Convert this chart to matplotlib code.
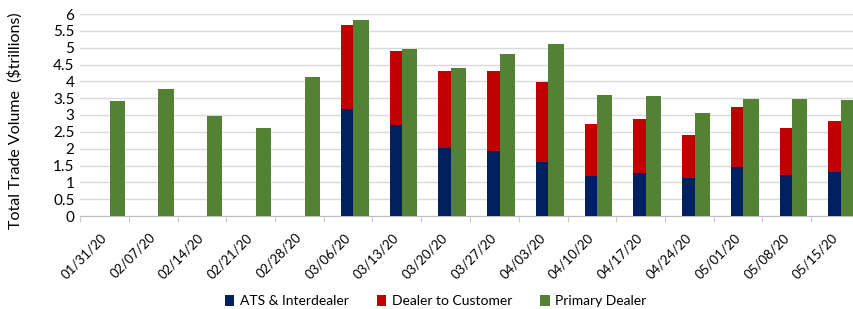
import matplotlib.pyplot as plt
import numpy as np

plt.rcParams['font.family'] = ['Lato', 'DejaVu Sans']

weeks = ['01/31/20', '02/07/20', '02/14/20', '02/21/20', '02/28/20', '03/06/20',
         '03/13/20', '03/20/20', '03/27/20', '04/03/20', '04/10/20', '04/17/20',
         '04/24/20', '05/01/20', '05/08/20', '05/15/20']
ats_interdealer = [0, 0, 0, 0, 0, 3.18, 2.71, 2.03, 1.92, 1.61, 1.20, 1.28, 1.12, 1.46, 1.23, 1.31]
dealer_customer = [0, 0, 0, 0, 0, 2.50, 2.20, 2.29, 2.40, 2.36, 1.52, 1.60, 1.29, 1.79, 1.38, 1.52]
primary_dealer = [3.43, 3.77, 2.98, 2.60, 4.12, 5.83, 4.96, 4.39, 4.81, 5.12, 3.59, 3.55, 3.06, 3.48, 3.48, 3.44]

navy = '#002060'
red = '#C00000'
green = '#548235'

fig = plt.figure(figsize=(8.54, 3.09), dpi=100)
ax = fig.add_axes([80 / 854, 93 / 309, 780 / 854, 202 / 309])

x = np.arange(len(weeks))
w_stack = 0.26
w_green = 0.31
ax.bar(x - 0.02, ats_interdealer, w_stack, color=navy, label='ATS & Interdealer', zorder=3)
ax.bar(x - 0.02, dealer_customer, w_stack, bottom=ats_interdealer, color=red,
       label='Dealer to Customer', zorder=3)
ax.bar(x + 0.265, primary_dealer, w_green, color=green, label='Primary Dealer', zorder=3)

ax.set_xlim(-0.5, 15.5)
ax.set_ylim(0, 6)
ax.set_yticks(np.arange(0, 6.01, 0.5))
ax.set_yticklabels(['0', '0.5', '1', '1.5', '2', '2.5', '3', '3.5', '4', '4.5', '5', '5.5', '6'])
ax.yaxis.grid(True, color='#D9D9D9', linewidth=1, zorder=0)
ax.tick_params(axis='y', length=0, labelsize=11, pad=4)

# category labels at centres, tick marks at boundaries
ax.set_xticks(x)
ax.set_xticklabels(weeks, rotation=45, ha='right', va='center', rotation_mode='anchor',
                   fontsize=9.5)
ax.tick_params(axis='x', length=0, pad=14)
ax.set_xticks(np.arange(-0.5, 16, 1), minor=True)
ax.tick_params(axis='x', which='minor', length=4, color='#BFBFBF')

for side in ['top', 'right', 'left']:
    ax.spines[side].set_visible(False)
ax.spines['bottom'].set_color('#BFBFBF')

ax.set_ylabel('Total Trade Volume  ($trillions)', fontsize=11.5)
ax.yaxis.set_label_coords(-0.074, 0.47)

fig.legend(loc='lower center', bbox_to_anchor=(0.51, -0.035), ncol=3, frameon=False,
           fontsize=10, handlelength=0.7, handleheight=0.9, handletextpad=0.4,
           columnspacing=2.0)

fig.savefig('out.png', dpi=100)
